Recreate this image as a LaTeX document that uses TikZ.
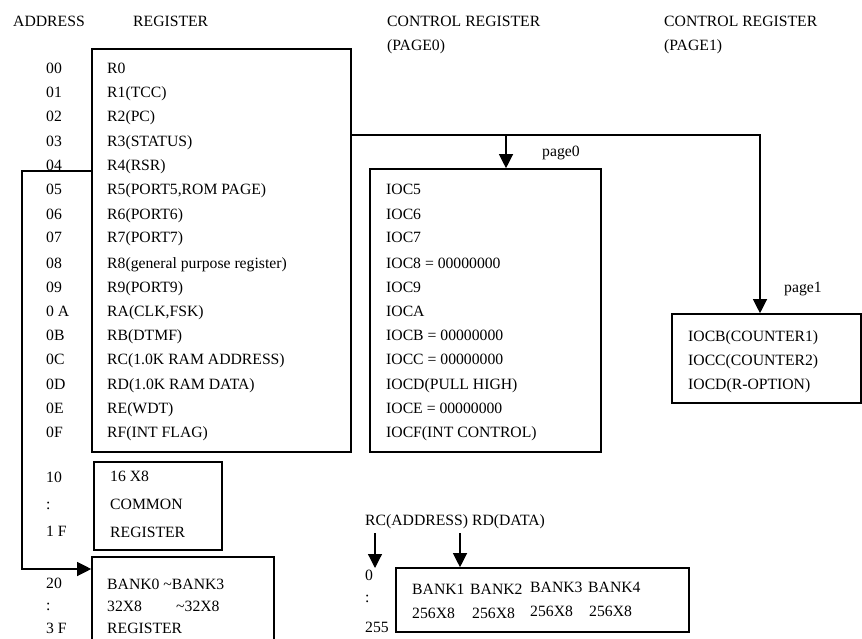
\documentclass[tikz,border=0pt]{standalone}
\usepackage{fontspec}
\setmainfont{Liberation Serif}
\usetikzlibrary{arrows.meta}

\begin{document}
\begin{tikzpicture}[x=1pt,y=-1pt,
    txt/.style ={anchor=base west, inner sep=0pt, font=\fontsize{15.7}{18}\selectfont},
    box/.style ={draw, line width=1.6pt, inner sep=0pt},
    wire/.style ={line width=1.2pt, -{Triangle[length=14pt,width=14pt]}}]
   \useasboundingbox (0,0) rectangle (862,639);
   % headings
   \node[txt] (hA) at (13,27) {ADDRESS};
   \node[txt] (hR) at (133,27) {REGISTER};
   \node[txt] (hC0) at (387,27) {CONTROL REGISTER};
   \node[txt] (hP0) at (387,51) {(PAGE0)};
   \node[txt] (hC1) at (664,27) {CONTROL REGISTER};
   \node[txt] (hP1) at (664,51) {(PAGE1)};
   % boxes
   \node[box, minimum width=259pt, minimum height=403pt] (reg) at (221.5,250.5) {};
   \node[box, minimum width=231pt, minimum height=283pt] (p0) at (485.5,310.5) {};
   \node[box, minimum width=189pt, minimum height=89pt] (p1) at (766.5,358.5) {};
   \node[box, minimum width=128pt, minimum height=88pt] (com) at (158,506) {};
   \node[box, minimum width=182pt, minimum height=93pt] (bank) at (183,603.5) {};
   \node[box, minimum width=293pt, minimum height=64pt] (ram) at (542.5,600) {};
   % addresses
   \node[txt] (a00) at (46,74) {00};
   \node[txt] (a01) at (46,98) {01};
   \node[txt] (a02) at (46,122) {02};
   \node[txt] (a03) at (46,147) {03};
   \node[txt] (a04) at (46,171) {04};
   \node[txt] (a05) at (46,195) {05};
   \node[txt] (a06) at (46,219) {06};
   \node[txt] (a07) at (46,243) {07};
   \node[txt] (a08) at (46,268) {08};
   \node[txt] (a09) at (46,292) {09};
   \node[txt] (a0A) at (46,316) {0 A};
   \node[txt] (a0B) at (46,340) {0B};
   \node[txt] (a0C) at (46,364) {0C};
   \node[txt] (a0D) at (46,389) {0D};
   \node[txt] (a0E) at (46,413) {0E};
   \node[txt] (a0F) at (46,437) {0F};
   \node[txt] (a10) at (46,482) {10};
   \node[txt] (a1x) at (46,509) {:};
   \node[txt] (a1F) at (46,536) {1 F};
   \node[txt] (a20) at (46,588) {20};
   \node[txt] (a2x) at (46,610) {:};
   \node[txt] (a3F) at (46,633) {3 F};
   % registers
   \node[txt] (r0) at (107,74) {R0};
   \node[txt] (r1) at (107,98) {R1(TCC)};
   \node[txt] (r2) at (107,122) {R2(PC)};
   \node[txt] (r3) at (107,147) {R3(STATUS)};
   \node[txt] (r4) at (107,171) {R4(RSR)};
   \node[txt] (r5) at (107,195) {R5(PORT5,ROM PAGE)};
   \node[txt] (r6) at (107,219) {R6(PORT6)};
   \node[txt] (r7) at (107,243) {R7(PORT7)};
   \node[txt] (r8) at (107,268) {R8(general purpose register)};
   \node[txt] (r9) at (107,292) {R9(PORT9)};
   \node[txt] (rA) at (107,316) {RA(CLK,FSK)};
   \node[txt] (rB) at (107,340) {RB(DTMF)};
   \node[txt] (rC) at (107,364) {RC(1.0K RAM ADDRESS)};
   \node[txt] (rD) at (107,389) {RD(1.0K RAM DATA)};
   \node[txt] (rE) at (107,413) {RE(WDT)};
   \node[txt] (rF) at (107,437) {RF(INT FLAG)};
   % control registers, page 0
   \node[txt] (c5) at (386,195) {IOC5};
   \node[txt] (c6) at (386,219) {IOC6};
   \node[txt] (c7) at (386,243) {IOC7};
   \node[txt] (c8) at (386,268) {IOC8 = 00000000};
   \node[txt] (c9) at (386,292) {IOC9};
   \node[txt] (cA) at (386,316) {IOCA};
   \node[txt] (cB) at (386,340) {IOCB = 00000000};
   \node[txt] (cC) at (386,364) {IOCC = 00000000};
   \node[txt] (cD) at (386,389) {IOCD(PULL HIGH)};
   \node[txt] (cE) at (386,413) {IOCE = 00000000};
   \node[txt] (cF) at (386,437) {IOCF(INT CONTROL)};
   \node[txt] (lp0) at (542,157) {page0};
   % control registers, page 1
   \node[txt] (dB) at (688,341) {IOCB(COUNTER1)};
   \node[txt] (dC) at (688,365) {IOCC(COUNTER2)};
   \node[txt] (dD) at (688,389) {IOCD(R-OPTION)};
   \node[txt] (lp1) at (784,292) {page1};
   % common and bank registers
   \node[txt] (m1) at (110,481) {16 X8};
   \node[txt] (m2) at (110,509) {COMMON};
   \node[txt] (m3) at (110,537) {REGISTER};
   \node[txt] (b1) at (107,589) {BANK0 \textasciitilde BANK3};
   \node[txt] (b2) at (107,611) {32X8};
   \node[txt] (b2b) at (176,611) {\textasciitilde 32X8};
   \node[txt] (b3) at (107,633) {REGISTER};
   % ram banks
   \node[txt] (rcd) at (365,525) {RC(ADDRESS) RD(DATA)};
   \node[txt] (q0) at (365,580) {0};
   \node[txt] (qx) at (365,602) {:};
   \node[txt] (q255) at (365,632) {255};
   \node[txt] (k1) at (412,594) {BANK1};
   \node[txt] (k2) at (470,594) {BANK2};
   \node[txt] (k3) at (530,592) {BANK3};
   \node[txt] (k4) at (588,592) {BANK4};
   \node[txt] (n1) at (412,618) {256X8};
   \node[txt] (n2) at (472,618) {256X8};
   \node[txt] (n3) at (530,616) {256X8};
   \node[txt] (n4) at (589,616) {256X8};
   % connectors
   \coordinate (j0) at (506,135);
   \coordinate (j1) at (760,135);
   \coordinate (l0) at (22,171);
   \coordinate (l1) at (22,569);
   \coordinate (s0) at (375,533);
   \coordinate (e0) at (375,568);
   \coordinate (s1) at (460,533);
   \draw[wire] (reg.east |- j0) -- (j1) -- (p1.north -| j1);
   \draw[wire] (j0) -- (p0.north -| j0);
   \draw[wire] (reg.west |- l0) -- (l0) -- (l1) -- (bank.west |- l1);
   \draw[wire] (s0) -- (e0);
   \draw[wire] (s1) -- (ram.north -| s1);
 \end{tikzpicture}
\end{document}
